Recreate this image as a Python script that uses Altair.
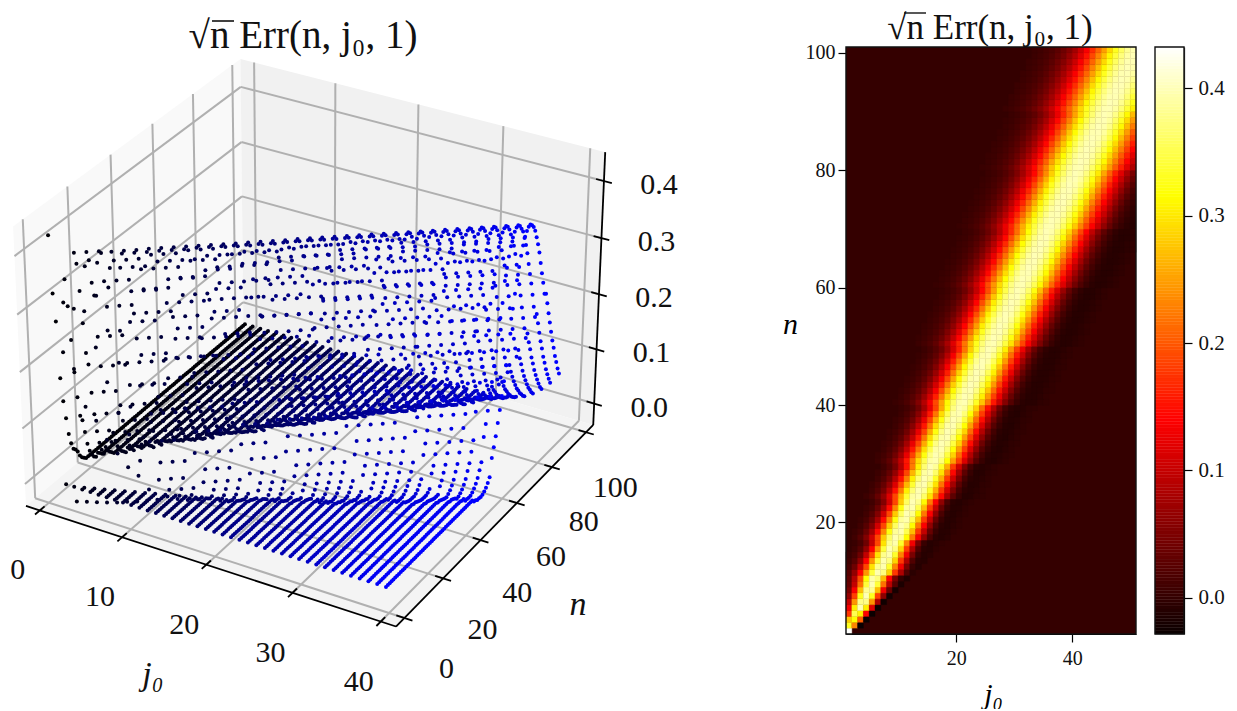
import numpy as np
import pandas as pd
import altair as alt

alt.data_transformers.disable_max_rows()

FONT = "Liberation Serif"
TITLE = "√n Err(n, j₀, 1)"
J_TICKS = [0, 10, 20, 30, 40]
N_TICKS = [0, 20, 40, 60, 80, 100]
Z_TICKS = [0.0, 0.1, 0.2, 0.3, 0.4]
V_MIN, V_MAX = -0.0285, 0.4325
TABLE_UNIT = 0.000928

# n: (first column, values in table units); cells not listed read as zero
HEAT_ROWS = {
    1: (1, [465]),
    2: (1, [355,250,-32]),
    3: (1, [300,340,220,-31]),
    4: (1, [190,380,330,150,-30]),
    5: (1, [143,327,430,327,125,-29]),
    6: (1, [107,261,407,407,261,90,-27]),
    7: (1, [73,197,354,430,354,197,65,-24]),
    8: (1, [52,146,291,412,412,291,140,40,-22]),
    9: (1, [38,107,232,368,430,368,232,100,25,-18]),
    10: (1, [33,95,207,341,424,401,289,150,51,0,-15]),
    11: (1, [26,69,150,261,369,428,403,307,192,90,21,-7]),
    12: (1, [15,43,105,202,319,409,426,361,247,140,51,3,-10]),
    13: (1, [8,26,69,150,261,369,428,403,307,192,90,21,-7,-10]),
    14: (1, [4,15,43,105,202,319,409,426,361,247,140,51,3,-10,-7]),
    15: (2, [8,26,69,150,261,369,428,403,307,192,90,21,-7,-10,-4]),
    16: (2, [4,15,43,105,202,319,409,426,361,247,140,51,3,-10,-7,-2]),
    17: (2, [9,25,58,116,202,300,387,429,410,338,240,148,68,16,-6,-10,-6]),
    18: (2, [5,15,39,83,157,250,347,415,427,379,292,192,106,38,3,-9,-8,-3]),
    19: (3, [9,25,58,116,202,300,387,429,410,338,240,148,68,16,-6,-10,-6,-2]),
    20: (3, [5,15,39,83,157,250,347,415,427,379,292,192,106,38,3,-9,-8,-3]),
    21: (4, [9,25,58,116,202,300,387,429,410,338,240,148,68,16,-6,-10,-6,-2]),
    22: (4, [5,15,39,83,157,250,347,415,427,379,292,192,106,38,3,-9,-8,-3]),
    23: (5, [9,25,58,116,202,300,387,429,410,338,240,148,68,16,-6,-10,-6,-2]),
    24: (4, [6,16,36,71,125,202,286,364,419,428,391,319,235,155,82,30,2,-10,-9,-4,-2]),
    25: (5, [10,24,50,96,162,242,329,397,429,415,358,279,192,116,55,13,-5,-9,-6,-2]),
    26: (5, [6,16,36,71,125,202,286,364,419,428,391,319,235,155,82,30,2,-10,-9,-4,-2]),
    27: (6, [10,24,50,96,162,242,329,397,429,415,358,279,192,116,55,13,-5,-9,-6,-2]),
    28: (6, [6,16,36,71,125,202,286,364,419,428,391,319,235,155,82,30,2,-10,-9,-4,-2]),
    29: (7, [10,24,50,96,162,242,329,397,429,415,358,279,192,116,55,13,-5,-9,-6,-2]),
    30: (6, [7,16,33,62,105,166,237,314,379,421,428,399,341,268,195,124,68,25,2,-9,-11,-7,-3]),
    31: (6, [5,11,23,45,82,134,199,276,347,404,429,418,372,307,230,159,94,43,11,-5,-10,-8,-4,-2]),
    32: (7, [7,16,33,62,105,166,237,314,379,421,428,399,341,268,195,124,68,25,2,-9,-11,-7,-3]),
    33: (7, [5,11,23,45,82,134,199,276,347,404,429,418,372,307,230,159,94,43,11,-5,-10,-8,-4,-2]),
    34: (8, [7,16,33,62,105,166,237,314,379,421,428,399,341,268,195,124,68,25,2,-9,-11,-7,-3]),
    35: (8, [5,11,23,45,82,134,199,276,347,404,429,418,372,307,230,159,94,43,11,-5,-10,-8,-4,-2]),
    36: (9, [7,16,33,62,105,166,237,314,379,421,428,399,341,268,195,124,68,25,2,-9,-11,-7,-3]),
    37: (9, [5,11,23,45,82,134,199,276,347,404,429,418,372,307,230,159,94,43,11,-5,-10,-8,-4,-2]),
    38: (10, [7,16,33,62,105,166,237,314,379,421,428,399,341,268,195,124,68,25,2,-9,-11,-7,-3]),
    39: (10, [5,11,23,45,82,134,199,276,347,404,429,418,372,307,230,159,94,43,11,-5,-10,-8,-4,-2]),
    40: (9, [4,9,18,33,58,95,144,204,271,336,390,423,429,405,358,297,230,166,109,59,24,3,-7,-9,-8,-4,-2]),
    41: (10, [6,13,25,44,75,118,172,237,304,364,410,430,421,384,329,264,197,137,82,39,11,-3,-9,-9,-6,-2]),
    42: (10, [4,9,18,33,58,95,144,204,271,336,390,423,429,405,358,297,230,166,109,59,24,3,-7,-9,-8,-4,-2]),
    43: (11, [6,13,25,44,75,118,172,237,304,364,410,430,421,384,329,264,197,137,82,39,11,-3,-9,-9,-6,-2]),
    44: (11, [4,9,18,33,58,95,144,204,271,336,390,423,429,405,358,297,230,166,109,59,24,3,-7,-9,-8,-4,-2]),
    45: (12, [6,13,25,44,75,118,172,237,304,364,410,430,421,384,329,264,197,137,82,39,11,-3,-9,-9,-6,-2]),
    46: (12, [4,9,18,33,58,95,144,204,271,336,390,423,429,405,358,297,230,166,109,59,24,3,-7,-9,-8,-4,-2]),
    47: (13, [6,13,25,44,75,118,172,237,304,364,410,430,421,384,329,264,197,137,82,39,11,-3,-9,-9,-6,-2]),
    48: (13, [4,9,18,33,58,95,144,204,271,336,390,423,429,405,358,297,230,166,109,59,24,3,-7,-9,-8,-4,-2]),
    49: (14, [6,13,25,44,75,118,172,237,304,364,410,430,421,384,329,264,197,137,82,39,11,-3,-9,-9,-6,-2]),
    50: (13, [6,11,19,33,56,86,127,177,237,297,354,397,424,429,411,372,319,261,202,146,96,55,24,4,-6,-10,-9,-5,-2]),
    51: (13, [4,8,15,26,43,69,106,152,207,266,327,377,413,430,422,394,347,292,230,172,120,74,36,12,-2,-9,-9,-6,-2]),
    52: (14, [6,11,19,33,56,86,127,177,237,297,354,397,424,429,411,372,319,261,202,146,96,55,24,4,-6,-10,-9,-5,-2]),
    53: (14, [4,8,15,26,43,69,106,152,207,266,327,377,413,430,422,394,347,292,230,172,120,74,36,12,-2,-9,-9,-6,-2]),
    54: (15, [6,11,19,33,56,86,127,177,237,297,354,397,424,429,411,372,319,261,202,146,96,55,24,4,-6,-10,-9,-5,-2]),
    55: (15, [4,8,15,26,43,69,106,152,207,266,327,377,413,430,422,394,347,292,230,172,120,74,36,12,-2,-9,-9,-6,-2]),
    56: (16, [6,11,19,33,56,86,127,177,237,297,354,397,424,429,411,372,319,261,202,146,96,55,24,4,-6,-10,-9,-5,-2]),
    57: (16, [4,8,15,26,43,69,106,152,207,266,327,377,413,430,422,394,347,292,230,172,120,74,36,12,-2,-9,-9,-6,-2]),
    58: (17, [6,11,19,33,56,86,127,177,237,297,354,397,424,429,411,372,319,261,202,146,96,55,24,4,-6,-10,-9,-5,-2]),
    59: (17, [4,8,15,26,43,69,106,152,207,266,327,377,413,430,422,394,347,292,230,172,120,74,36,12,-2,-9,-9,-6,-2]),
    60: (16, [3,6,11,19,32,51,78,112,155,207,261,314,364,403,425,429,413,382,336,284,227,175,126,82,46,20,4,-6,-10,-9,-6,-3]),
    61: (17, [5,8,15,25,41,63,95,134,180,232,288,341,384,416,430,424,399,358,309,256,202,150,104,64,32,11,-2,-8,-9,-6,-3]),
    62: (17, [3,6,11,19,32,51,78,112,155,207,261,314,364,403,425,429,413,382,336,284,227,175,126,82,46,20,4,-6,-10,-9,-6,-3]),
    63: (18, [5,8,15,25,41,63,95,134,180,232,288,341,384,416,430,424,399,358,309,256,202,150,104,64,32,11,-2,-8,-9,-6,-3]),
    64: (18, [3,6,11,19,32,51,78,112,155,207,261,314,364,403,425,429,413,382,336,284,227,175,126,82,46,20,4,-6,-10,-9,-6,-3]),
    65: (19, [5,8,15,25,41,63,95,134,180,232,288,341,384,416,430,424,399,358,309,256,202,150,104,64,32,11,-2,-8,-9,-6,-3]),
    66: (19, [3,6,11,19,32,51,78,112,155,207,261,314,364,403,425,429,413,382,336,284,227,175,126,82,46,20,4,-6,-10,-9,-6,-3]),
    67: (20, [5,8,15,25,41,63,95,134,180,232,288,341,384,416,430,424,399,358,309,256,202,150,104,64,32,11,-2,-8,-9,-6,-3]),
    68: (20, [3,6,11,19,32,51,78,112,155,207,261,314,364,403,425,429,413,382,336,284,227,175,126,82,46,20,4,-6,-10,-9,-6]),
    69: (21, [5,8,15,25,41,63,95,134,180,232,288,341,384,416,430,424,399,358,309,256,202,150,104,64,32,11,-2,-8,-9,-6]),
    70: (20, [3,6,11,18,29,45,68,98,136,177,227,279,329,372,406,426,429,416,387,347,300,247,197,150,109,70,38,15,2,-6,-10]),
    71: (21, [5,8,14,23,36,56,82,116,155,202,253,304,354,390,418,430,424,403,369,325,274,222,172,128,88,52,25,8,-3,-8]),
    72: (21, [3,6,11,18,29,45,68,98,136,177,227,279,329,372,406,426,429,416,387,347,300,247,197,150,109,70,38,15,2,-6]),
    73: (22, [5,8,14,23,36,56,82,116,155,202,253,304,354,390,418,430,424,403,369,325,274,222,172,128,88,52,25,8,-3]),
    74: (22, [3,6,11,18,29,45,68,98,136,177,227,279,329,372,406,426,429,416,387,347,300,247,197,150,109,70,38,15,2]),
    75: (23, [5,8,14,23,36,56,82,116,155,202,253,304,354,390,418,430,424,403,369,325,274,222,172,128,88,52,25,8]),
    76: (23, [3,6,11,18,29,45,68,98,136,177,227,279,329,372,406,426,429,416,387,347,300,247,197,150,109,70,38,15]),
    77: (24, [5,8,14,23,36,56,82,116,155,202,253,304,354,390,418,430,424,403,369,325,274,222,172,128,88,52,25]),
    78: (24, [3,6,11,18,29,45,68,98,136,177,227,279,329,372,406,426,429,416,387,347,300,247,197,150,109,70,38]),
    79: (25, [5,8,14,23,36,56,82,116,155,202,253,304,354,390,418,430,424,403,369,325,274,222,172,128,88,52]),
    80: (24, [4,6,11,17,27,41,60,85,118,155,199,245,295,338,379,410,426,429,418,391,356,312,266,217,172,128,91]),
    81: (25, [5,8,14,22,33,50,72,101,136,177,222,271,316,361,395,420,430,425,407,376,336,289,242,195,152,111]),
    82: (25, [4,6,11,17,27,41,60,85,118,155,199,245,295,338,379,410,426,429,418,391,356,312,266,217,172,128]),
    83: (26, [5,8,14,22,33,50,72,101,136,177,222,271,316,361,395,420,430,425,407,376,336,289,242,195,152]),
    84: (26, [4,6,11,17,27,41,60,85,118,155,199,245,295,338,379,410,426,429,418,391,356,312,266,217,172]),
    85: (27, [5,8,14,22,33,50,72,101,136,177,222,271,316,361,395,420,430,425,407,376,336,289,242,195]),
    86: (27, [4,6,11,17,27,41,60,85,118,155,199,245,295,338,379,410,426,429,418,391,356,312,266,217]),
    87: (28, [5,8,14,22,33,50,72,101,136,177,222,271,316,361,395,420,430,425,407,376,336,289,242]),
    88: (28, [4,6,11,17,27,41,60,85,118,155,199,245,295,338,379,410,426,429,418,391,356,312,266]),
    89: (29, [5,8,14,22,33,50,72,101,136,177,222,271,316,361,395,420,430,425,407,376,336,289]),
    90: (28, [5,8,13,19,29,43,60,83,112,146,183,225,268,312,354,387,412,427,429,420,398,367,329]),
    91: (29, [6,10,15,23,35,50,71,96,127,163,204,247,291,334,371,401,421,430,426,410,384,351]),
    92: (29, [5,8,13,19,29,43,60,83,112,146,183,225,268,312,354,387,412,427,429,420,398,367]),
    93: (30, [6,10,15,23,35,50,71,96,127,163,204,247,291,334,371,401,421,430,426,410,384]),
    94: (30, [5,8,13,19,29,43,60,83,112,146,183,225,268,312,354,387,412,427,429,420,398]),
    95: (31, [6,10,15,23,35,50,71,96,127,163,204,247,291,334,371,401,421,430,426,410]),
    96: (31, [5,8,13,19,29,43,60,83,112,146,183,225,268,312,354,387,412,427,429,420]),
    97: (32, [6,10,15,23,35,50,71,96,127,163,204,247,291,334,371,401,421,430,426]),
    98: (32, [5,8,13,19,29,43,60,83,112,146,183,225,268,312,354,387,412,427,429]),
    99: (33, [6,10,15,23,35,50,71,96,127,163,204,247,291,334,371,401,421,430]),
    100: (33, [5,8,13,19,29,43,60,83,112,146,183,225,268,312,354,387,412,427]),
}


def hot(values):
    t = np.clip((np.asarray(values, float) - V_MIN) / (V_MAX - V_MIN), 0, 1)
    r = np.interp(t, [0, 0.365, 1], [0.0416, 1, 1])
    g = np.interp(t, [0, 0.365, 0.746, 1], [0, 0, 1, 1])
    b = np.interp(t, [0, 0.746, 1], [0, 0, 1])
    return ["#%02x%02x%02x" % (round(a * 255), round(c * 255), round(d * 255)) for a, c, d in zip(r, g, b)]


JL, JH, NL, NH, ZL, ZH = -1.7, 41.7, -4.25, 104.25, -0.04, 0.45
BX, BY, BZ = 1.1429, 1.1429, 0.8571
U = np.array([0.8660, 0.5, 0.0])
V = np.array([-0.25, 0.4330, 0.8660])
W = np.array([0.4330, -0.75, 0.5])
N_READ, J_READ = 0.94, 0.985  # how far along the 3-D axes the points were read


def raw(j, n, z):
    p = np.stack([(np.asarray(j, float) - JL) / (JH - JL) * BX - BX / 2,
                  (np.asarray(n, float) - NL) / (NH - NL) * BY - BY / 2,
                  (np.asarray(z, float) - ZL) / (ZH - ZL) * BZ - BZ / 2], axis=-1)
    d = 10 - p @ W
    return (p @ U) / d, (p @ V) / d


CAL_WORLD = [(JL, NL, ZL), (JH, NL, ZL), (JH, NH, ZL), (JH, NH, ZH), (JL, NH, ZH), (JL, NL, ZH)]
CAL_PAGE_X = [25, 397, 593, 605, 240, 14]
CAL_PAGE_Y = [503, 628, 427, 152, 60, 225]
_rx, _ry = raw(*np.array(CAL_WORLD).T)
AX = np.polyfit(_rx, CAL_PAGE_X, 1)
AY = np.polyfit(_ry, CAL_PAGE_Y, 1)


def proj(j, n, z):
    rx, ry = raw(j, n, z)
    return np.polyval(AX, rx), np.polyval(AY, ry)


SX = alt.Scale(domain=[8, 827], range=[0, 819], nice=False, zero=False)
SY = alt.Scale(domain=[8, 634], range=[0, 626], nice=False, zero=False)
XE = alt.X("x:Q", scale=SX, axis=None)
YE = alt.Y("y:Q", scale=SY, axis=None)


def pane(corners, color):
    px, py = proj(*np.array(corners).T)
    xs = np.unique(np.round(px, 3))
    y1, y2 = [], []
    for q in xs:
        hits = []
        for i in range(4):
            a, b = i, (i + 1) % 4
            lo, hi = sorted([px[a], px[b]])
            if lo - 0.01 <= q <= hi + 0.01:
                if abs(px[a] - px[b]) < 1e-6:
                    hits += [py[a], py[b]]
                else:
                    hits.append(py[a] + (q - px[a]) / (px[b] - px[a]) * (py[b] - py[a]))
        y1.append(min(hits))
        y2.append(max(hits))
    return alt.Chart(pd.DataFrame({"x": xs, "y": y1, "y2": y2})).mark_area(color=color).encode(
        x=XE, y=YE, y2="y2:Q")


def segments(seg_list, color, width):
    rows = []
    for k, (a, b) in enumerate(seg_list):
        for i, w in enumerate((a, b)):
            x, y = proj(*w)
            rows.append({"x": float(x), "y": float(y), "seg": k, "i": i})
    return alt.Chart(pd.DataFrame(rows)).mark_line(color=color, strokeWidth=width).encode(
        x=XE, y=YE, detail="seg:N", order="i:Q")


grid = []
for t in J_TICKS:
    grid += [((t, NL, ZL), (t, NH, ZL)), ((t, NH, ZL), (t, NH, ZH))]
for t in N_TICKS:
    grid += [((JH, t, ZL), (JL, t, ZL)), ((JL, t, ZL), (JL, t, ZH))]
for t in Z_TICKS:
    grid += [((JL, NL, t), (JL, NH, t)), ((JL, NH, t), (JH, NH, t))]

axes_lines = [((JL, NL, ZL), (JH, NL, ZL)), ((JH, NL, ZL), (JH, NH, ZL)), ((JH, NH, ZL), (JH, NH, ZH))]
for t in J_TICKS:
    axes_lines.append(((t, NL - 2.2, ZL), (t, NL + 2.2, ZL)))
for t in N_TICKS:
    axes_lines.append(((JH - 0.9, t, ZL), (JH + 0.9, t, ZL)))
for t in Z_TICKS:
    axes_lines.append(((JH - 0.9, NH, t), (JH + 0.9, NH, t)))

lookup = {}
for n, (start, vals) in HEAT_ROWS.items():
    for i, v in enumerate(vals):
        lookup[(start + i, n)] = v * TABLE_UNIT

pts = []
for n in HEAT_ROWS:
    for j0 in range(1, 41):
        pts.append((j0, n, lookup.get((j0, n), 0.0)))
pts = pd.DataFrame(pts, columns=["j0", "n", "z"])
pts["j3"] = pts.j0 * J_READ
pts["n3"] = pts.n * N_READ
pts["x"], pts["y"] = proj(pts.j3.values, pts.n3.values, pts.z.values)
_p = np.stack([(pts.j3 - JL) / (JH - JL) * BX - BX / 2, (pts.n3 - NL) / (NH - NL) * BY - BY / 2,
               (pts.z - ZL) / (ZH - ZL) * BZ - BZ / 2], axis=-1)
pts["depth"] = _p @ W
pts["c"] = ["#0000%02x" % round(j / 40 * 255) for j in pts.j0]
pts = pts.sort_values("depth")[["c", "x", "y"]].round(2)

scatter = alt.Chart(pts).mark_circle(size=16, opacity=1).encode(
    x=XE, y=YE, color=alt.Color("c:N", scale=None))

labels = []
for t in J_TICKS:
    x, y = proj(t, NL, ZL)
    labels.append({"t": str(t), "x": float(x) - 22, "y": float(y) + 60, "s": 30, "st": "normal"})
for t in N_TICKS:
    x, y = proj(JH, t, ZL)
    labels.append({"t": str(t), "x": float(x) + 42 - 0.13 * t, "y": float(y) + 51 + 0.05 * t, "s": 30, "st": "normal"})
for t in Z_TICKS:
    x, y = proj(JH, NH, t)
    labels.append({"t": f"{t:.1f}", "x": float(x) + 55, "y": float(y) + 4, "s": 30, "st": "normal"})
labels += [
    {"t": "j₀", "x": 153, "y": 675, "s": 34, "st": "italic"},
    {"t": "n", "x": 578, "y": 605, "s": 34, "st": "italic"},
    {"t": TITLE, "x": 303, "y": 36, "s": 39, "st": "normal"},
]
ldf = pd.DataFrame(labels)
text_layers = [
    alt.Chart(ldf[ldf.st == st]).mark_text(font=FONT, fontStyle=st, color="#111111", align="center", baseline="middle").encode(
        x=XE, y=YE, text="t:N", size=alt.Size("s:Q", scale=None, legend=None))
    for st in ("normal", "italic")
]
DUMMY = pd.DataFrame({"k": [0]})
bar_left = alt.Chart(DUMMY).mark_rule(color="#111111", strokeWidth=1.6).encode(
    x=alt.value(204), x2=alt.value(226), y=alt.value(13))

panel3d = alt.layer(
    pane([(JL, NL, ZL), (JL, NH, ZL), (JL, NH, ZH), (JL, NL, ZH)], "#f9f9f9"),
    pane([(JL, NH, ZL), (JH, NH, ZL), (JH, NH, ZH), (JL, NH, ZH)], "#f1f1f1"),
    pane([(JL, NL, ZL), (JH, NL, ZL), (JH, NH, ZL), (JL, NH, ZL)], "#f4f4f4"),
    segments(grid, "#b0b0b0", 2),
    segments(axes_lines, "#000000", 1.8),
    scatter,
    *text_layers,
    bar_left,
).properties(width=819, height=626)

cells = pd.DataFrame(
    [{"j": s + i, "j2": s + i + 1, "n": n, "n2": n + 1, "v": v * TABLE_UNIT}
     for n, (s, vals) in HEAT_ROWS.items() for i, v in enumerate(vals) if s + i <= 50])
cells["c"] = hot(cells.v)
HX = alt.Scale(domain=[1, 51], nice=False, zero=False)
HY = alt.Scale(domain=[1, 101], range=[626, 39], nice=False, zero=False)
x_axis = alt.Axis(values=[20, 40], labelFont=FONT, labelFontSize=20, labelColor="#111111", tickColor="#000000",
                  domainColor="#000000", grid=False, title="j₀", titleFont=FONT, titleFontStyle="italic",
                  titleFontWeight="normal", titleFontSize=30, titleX=147, titleY=45, tickSize=8, labelPadding=6,
                  tickWidth=1.2, domainWidth=1.2, labelFlush=False)
y_axis = alt.Axis(values=[20, 40, 60, 80, 100], labelFont=FONT, labelFontSize=20, labelColor="#111111",
                  tickColor="#000000", domainColor="#000000", grid=False, title="n", titleFont=FONT,
                  titleFontStyle="italic", titleFontWeight="normal", titleFontSize=30, titleAngle=0, titleX=-56,
                  titleY=331, tickSize=8, labelPadding=3, tickWidth=1.2, domainWidth=1.2)
box = pd.DataFrame({"j": [1], "j2": [51], "n": [1], "n2": [101], "c": hot([0.0])})
EX = alt.X("j:Q", scale=HX, axis=x_axis)
EY = alt.Y("n:Q", scale=HY, axis=y_axis)
heat_bg = alt.Chart(box).mark_rect().encode(
    x=EX, x2="j2:Q", y=EY, y2="n2:Q", color=alt.Color("c:N", scale=None))
heat_cells = alt.Chart(cells).mark_rect(strokeWidth=0.4).encode(
    x=EX, x2="j2:Q", y=EY, y2="n2:Q",
    color=alt.Color("c:N", scale=None),
    stroke=alt.Stroke("c:N", scale=None))
heat_frame = alt.Chart(box).mark_rect(fillOpacity=0, stroke="#111111", strokeWidth=1.4).encode(
    x=EX, x2="j2:Q", y=EY, y2="n2:Q")
heat_title = alt.Chart(pd.DataFrame({"t": [TITLE]})).mark_text(
    font=FONT, fontSize=35, color="#111111", align="center", baseline="middle").encode(
    text="t:N", x=alt.value(144), y=alt.value(20))
bar_right = alt.Chart(DUMMY).mark_rule(color="#111111", strokeWidth=1.4).encode(
    x=alt.value(58), x2=alt.value(80), y=alt.value(5))
heat = alt.layer(heat_bg, heat_cells, heat_frame, heat_title, bar_right).properties(width=290, height=626)

ramp_vals = np.linspace(V_MIN, V_MAX, 189)
ramp = pd.DataFrame({"a": ramp_vals[:-1], "b": ramp_vals[1:]})
ramp["c"] = hot((ramp.a + ramp.b) / 2)
CY = alt.Scale(domain=[V_MIN, V_MAX], range=[626, 39], nice=False, zero=False)
cbar_axis = alt.Axis(orient="right", values=Z_TICKS, format=".1f", labelFont=FONT, labelFontSize=21,
                     labelColor="#111111", tickColor="#000000", domainColor="#000000", grid=False, title=None,
                     tickSize=8, labelPadding=6, tickWidth=1.2, domainWidth=1.2)
cbar_cells = alt.Chart(ramp).mark_rect(strokeWidth=0.4).encode(
    x=alt.value(0), x2=alt.value(29),
    y=alt.Y("a:Q", scale=CY, axis=cbar_axis), y2="b:Q",
    color=alt.Color("c:N", scale=None),
    stroke=alt.Stroke("c:N", scale=None))
cbar_frame = alt.Chart(pd.DataFrame({"a": [V_MIN], "b": [V_MAX]})).mark_rect(
    fillOpacity=0, stroke="#111111", strokeWidth=1.4).encode(
    x=alt.value(0), x2=alt.value(29), y=alt.Y("a:Q", scale=CY, axis=cbar_axis), y2="b:Q")
cbar = alt.layer(cbar_cells, cbar_frame).properties(width=29, height=626)

chart = (alt.hconcat(panel3d, heat, cbar, spacing=19, bounds="flush")
         .resolve_scale(color="independent", stroke="independent")
         .properties(padding=0).configure_view(stroke=None))
chart.save("out.html", embed_options={"renderer": "svg", "actions": False})
